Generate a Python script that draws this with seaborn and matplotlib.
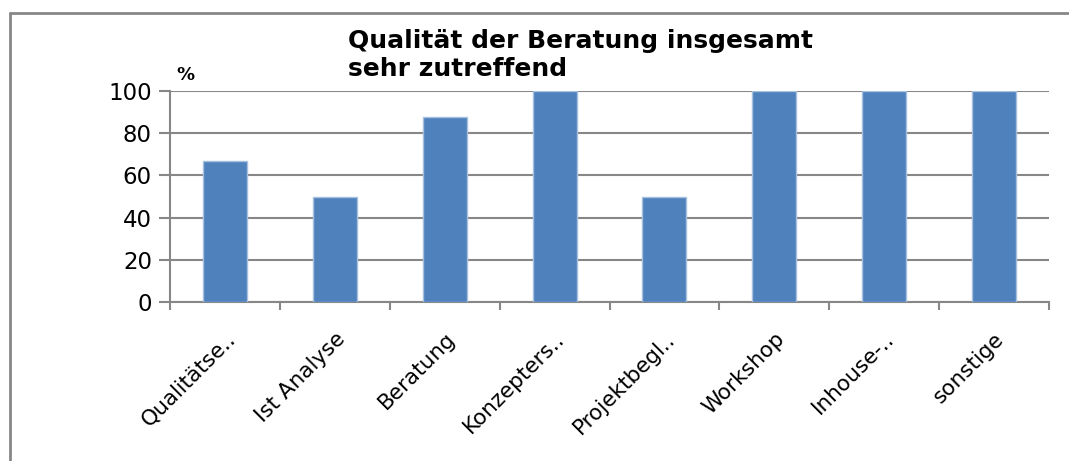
import numpy as np
import pandas as pd
import matplotlib
matplotlib.use("Agg")
import matplotlib.pyplot as plt
import seaborn as sns
from matplotlib.lines import Line2D

categories = ["Qualitätse..", "Ist Analyse", "Beratung", "Konzepters..",
              "Projektbegl..", "Workshop", "Inhouse-..", "sonstige"]
values = [66.7, 50, 87.5, 100, 50, 100, 100, 100]

df = pd.DataFrame({"kategorie": categories, "prozent": values})

sns.set_style("white")
plt.rcParams["font.family"] = ["DejaVu Sans"]
plt.rcParams["text.color"] = "black"

fig = plt.figure(figsize=(10.69, 4.61), dpi=100)
ax = fig.add_axes([170 / 1069, 1 - 302 / 461, 879 / 1069, 211 / 461])

sns.barplot(data=df, x="kategorie", y="prozent", color="#4F81BD", width=0.4,
            saturation=1, edgecolor="#A7C0DE", linewidth=1, ax=ax, zorder=3)

grey = "#878787"
ax.set_ylim(0, 100)
ax.set_xlim(-0.5, len(categories) - 0.5)
ax.set_yticks(range(0, 101, 20))
ax.yaxis.grid(True, color=grey, linewidth=1.5, zorder=0)
ax.set_axisbelow(True)
for s in ["top", "right"]:
    ax.spines[s].set_visible(False)
for s in ["left", "bottom"]:
    ax.spines[s].set_color(grey)
    ax.spines[s].set_linewidth(1.5)

ax.set_xlabel("")
ax.set_ylabel("")
ax.tick_params(axis="y", length=8, width=1.5, color=grey, labelsize=16.5,
               labelcolor="black", pad=5, left=True)
ax.set_xticks(np.arange(len(categories)))
ax.set_xticklabels(categories, rotation=45, ha="right", rotation_mode="anchor",
                   fontsize=15.5, color="black")
ax.tick_params(axis="x", which="major", length=0, pad=19)
ax.set_xticks(np.arange(-0.5, len(categories)), minor=True)
ax.tick_params(axis="x", which="minor", length=6, width=1.5, color=grey,
               bottom=True)

fig.text(348 / 1069, 1 - 55 / 461, "Qualität der Beratung insgesamt\nsehr zutreffend",
         fontsize=18, fontweight="bold", ha="left", va="center", linespacing=1.25)
fig.text(176 / 1069, 1 - 75 / 461, "%", fontsize=13, fontweight="bold",
         ha="left", va="center")

fig.add_artist(Line2D([9.5 / 1069, 9.5 / 1069], [0, 1 - 13 / 461],
                      transform=fig.transFigure, color=grey, linewidth=2))
fig.add_artist(Line2D([9.5 / 1069, 1], [1 - 13 / 461, 1 - 13 / 461],
                      transform=fig.transFigure, color=grey, linewidth=2))

fig.savefig("out.png", dpi=100)
